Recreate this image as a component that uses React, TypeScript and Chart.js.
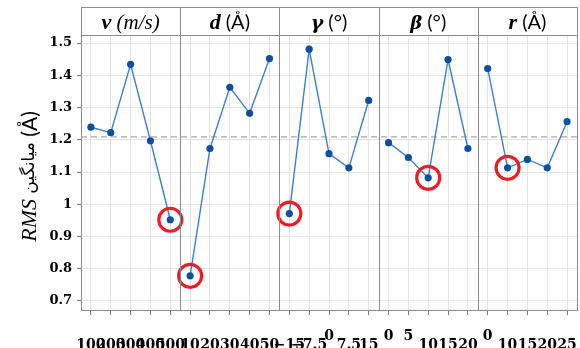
import React, { useEffect, useRef } from 'react';
import { Chart, registerables } from 'chart.js';

Chart.register(...registerables);

// Factor levels shown under each panel
const vLevels = ['100', '200', '300', '400', '500'];
const dLevels = ['10', '20', '30', '40', '50'];
const gammaLevels = ['−15', '−7.5', '0', '7.5', '15'];
const betaLevels = ['0', '5', '10', '15', '20'];
const rLevels = ['0', '10', '15', '20', '25'];

// Mean RMS (Å) at each level
const vRms = [1.239, 1.222, 1.434, 1.197, 0.952];
const dRms = [0.778, 1.173, 1.363, 1.282, 1.452];
const gammaRms = [0.971, 1.481, 1.157, 1.113, 1.322];
const betaRms = [1.191, 1.145, 1.082, 1.449, 1.173];
const rRms = [1.421, 1.113, 1.139, 1.113, 1.256];

// Tick labels that sit one row higher than the rest
const raisedTickIndices = [12, 15, 16, 20];

const yTickValues = [0.7, 0.8, 0.9, 1.0, 1.1, 1.2, 1.3, 1.4, 1.5];

type Seg = { t: string; font: string };

const panelTitles: Seg[][] = [
  [
    { t: 'v', font: 'italic bold 22px "Liberation Serif"' },
    { t: ' (m/s)', font: 'italic 21px "Liberation Serif"' },
  ],
  [
    { t: 'd', font: 'italic bold 22px "Liberation Serif"' },
    { t: ' (Å)', font: '20px Lato' },
  ],
  [
    { t: 'γ', font: 'italic bold 19px "DejaVu Serif"' },
    { t: ' (°)', font: '20px Lato' },
  ],
  [
    { t: 'β', font: 'italic bold 18px "DejaVu Serif"' },
    { t: ' (°)', font: '20px Lato' },
  ],
  [
    { t: 'r', font: 'italic bold 22px "Liberation Serif"' },
    { t: ' (Å)', font: '20px Lato' },
  ],
];

const yTitle: Seg[] = [
  { t: 'RMS', font: 'italic 22px "Liberation Serif"' },
  { t: ' میانگین ', font: '17px "DejaVu Sans"' },
  { t: '(Å)', font: '21px Lato' },
];

const panels = [vRms, dRms, gammaRms, betaRms, rRms];
const levelLabels = [...vLevels, ...dLevels, ...gammaLevels, ...betaLevels, ...rLevels];

const HEADER_TOP = 7;
const FRAME = '#8c8c8c';

function drawSegments(ctx: CanvasRenderingContext2D, segs: Seg[], cx: number, baseline: number) {
  let total = 0;
  const widths = segs.map((s) => {
    ctx.font = s.font;
    const w = ctx.measureText(s.t).width;
    total += w;
    return w;
  });
  let xPos = cx - total / 2;
  segs.forEach((s, i) => {
    ctx.font = s.font;
    ctx.fillText(s.t, xPos, baseline);
    xPos += widths[i];
  });
}

const panelFrame = {
  id: 'panelFrame',
  afterDraw(chart: any) {
    const { ctx, chartArea: a } = chart;
    const xs = chart.scales.x;
    ctx.save();
    ctx.strokeStyle = FRAME;
    ctx.lineWidth = 1;
    ctx.strokeRect(Math.round(a.left) + 0.5, HEADER_TOP + 0.5, Math.round(a.right - a.left), Math.round(a.top) - HEADER_TOP);
    ctx.beginPath();
    ctx.moveTo(Math.round(a.right) + 0.5, a.top);
    ctx.lineTo(Math.round(a.right) + 0.5, a.bottom);
    for (let k = 1; k < panels.length; k++) {
      const px = Math.round(xs.getPixelForValue(k * 5)) + 0.5;
      ctx.moveTo(px, HEADER_TOP);
      ctx.lineTo(px, a.bottom);
    }
    ctx.stroke();

    ctx.fillStyle = '#000';
    ctx.textBaseline = 'alphabetic';
    ctx.textAlign = 'left';
    panelTitles.forEach((segs, k) => {
      const cx = (xs.getPixelForValue(k * 5) + xs.getPixelForValue(k * 5 + 5)) / 2;
      drawSegments(ctx, segs, cx, 29);
    });

    ctx.translate(30, (a.top + a.bottom) / 2 + 4);
    ctx.rotate(-Math.PI / 2);
    ctx.textBaseline = 'middle';
    drawSegments(ctx, yTitle, 0, 0);
    ctx.restore();
  },
};

export default function App() {
  const canvasRef = useRef<HTMLCanvasElement | null>(null);

  useEffect(() => {
    if (!canvasRef.current) return;
    const all = panels.flat();
    const mean = all.reduce((s, v) => s + v, 0) / all.length;

    const lineSets = panels.map((vals, k) => ({
      type: 'line' as const,
      data: vals.map((y, i) => ({ x: k * 5 + i + 0.5, y })),
      borderColor: '#3f7fcc',
      borderWidth: 1.4,
      pointRadius: 3.6,
      pointBackgroundColor: '#0b4f9e',
      pointBorderColor: '#0b4f9e',
      pointBorderWidth: 0,
      order: 1,
    }));

    const bestPoints = panels.map((vals, k) => {
      const i = vals.indexOf(Math.min(...vals));
      return { x: k * 5 + i + 0.5, y: vals[i] };
    });

    const chart = new Chart(canvasRef.current, {
      type: 'line',
      data: {
        datasets: [
          {
            data: bestPoints,
            showLine: false,
            pointRadius: 11.5,
            pointBorderWidth: 3.2,
            pointBorderColor: '#ee1c25',
            pointBackgroundColor: 'rgba(0,0,0,0)',
            order: 0,
          } as any,
          ...lineSets,
          {
            data: [
              { x: 0, y: mean },
              { x: 25, y: mean },
            ],
            borderColor: '#a8a8a8',
            borderWidth: 1.3,
            borderDash: [6, 4],
            pointRadius: 0,
            order: 2,
          },
        ],
      },
      options: {
        animation: false,
        responsive: true,
        maintainAspectRatio: false,
        layout: { autoPadding: false, padding: { top: 35, right: 3, left: 0, bottom: 0 } },
        plugins: { legend: { display: false }, tooltip: { enabled: false }, title: { display: false } },
        scales: {
          x: {
            type: 'linear',
            min: 0,
            max: 25,
            afterBuildTicks: (s: any) => {
              s.ticks = levelLabels.map((_, i) => ({ value: i + 0.5 }));
            },
            afterFit: (s: any) => {
              s.height = 38;
              s.paddingLeft = 0;
              s.paddingRight = 0;
            },
            grid: { color: '#e3e3e3', lineWidth: 1, tickLength: 5, tickColor: '#7f7f7f' },
            border: { color: FRAME },
            ticks: {
              autoSkip: false,
              maxRotation: 0,
              minRotation: 0,
              padding: 17,
              color: '#000',
              font: { family: '"DejaVu Serif"', size: 14, weight: 'bold', lineHeight: '9px' },
              callback: (_v: any, i: number) =>
                raisedTickIndices.includes(i) ? [levelLabels[i]] : ['', levelLabels[i]],
            },
          },
          y: {
            min: 0.672,
            max: 1.525,
            afterBuildTicks: (s: any) => {
              s.ticks = yTickValues.map((v) => ({ value: v }));
            },
            afterFit: (s: any) => {
              s.width = 81;
              s.paddingTop = 0;
              s.paddingBottom = 0;
            },
            grid: { color: '#e3e3e3', lineWidth: 1, tickLength: 4, tickColor: '#7f7f7f' },
            border: { color: FRAME },
            ticks: {
              padding: 5,
              color: '#000',
              font: { family: '"DejaVu Serif"', size: 13, weight: 'bold' },
              callback: (v: any) => String(Number(Number(v).toFixed(1))),
            },
          },
        },
      },
      plugins: [panelFrame],
    } as any);

    return () => chart.destroy();
  }, []);

  return (
    <div style={{ position: 'absolute', left: 0, top: 0, width: 580, height: 348, background: '#fff' }}>
      <canvas ref={canvasRef} />
    </div>
  );
}
